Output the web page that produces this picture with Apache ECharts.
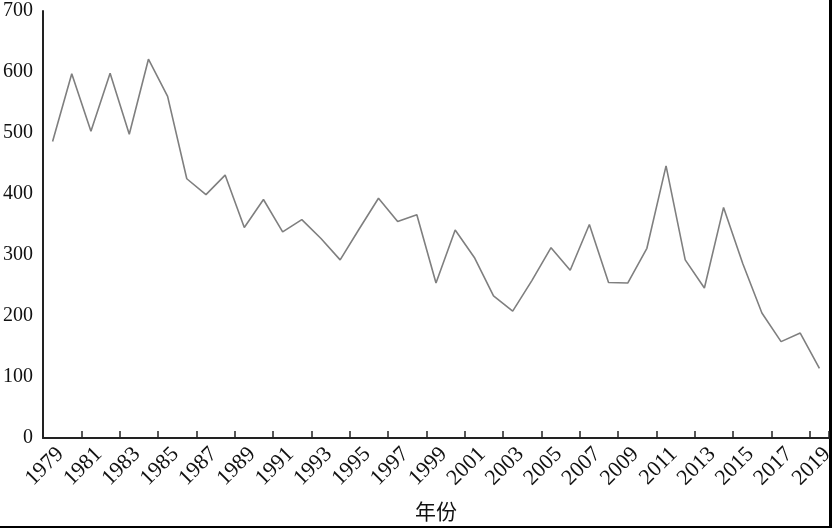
<!DOCTYPE html>
<html>
<head>
<meta charset="utf-8">
<script src="https://cdn.jsdelivr.net/npm/echarts@6/dist/echarts.min.js"></script>
<style>
html,body{margin:0;padding:0;background:#fff;}
#chart{width:832px;height:528px;}
</style>
</head>
<body>
<div id="chart"></div>
<script>
const years = [];
for (let y = 1979; y <= 2019; y++) years.push(String(y));
const values = [
  486, 597, 503, 598, 498, 621, 560, 425, 399, 431,
  345, 391, 338, 358, 327, 292, 343, 393, 355, 366,
  254, 341, 296, 233, 208, 258, 312, 275, 350, 255,
  254, 311, 446, 292, 246, 378, 286, 205, 158, 172,
  114
];
const xAxisName = '年份';
const yMin = 0, yMax = 700, yStep = 100;

const chart = echarts.init(document.getElementById('chart'));
chart.setOption({
  animation: false,
  backgroundColor: '#fff',
  grid: { left: 43, right: 3, top: 11, bottom: 90, containLabel: false, outerBoundsMode: 'none' },
  xAxis: {
    type: 'category',
    data: years,
    boundaryGap: true,
    name: xAxisName,
    nameLocation: 'middle',
    nameGap: 63,
    nameTextStyle: { fontFamily: 'Noto Sans CJK SC', fontSize: 21, color: '#111' },
    axisLine: { lineStyle: { color: '#222', width: 2 } },
    axisTick: { show: true, inside: true, length: 7, interval: 1, lineStyle: { color: '#222', width: 1.5 } },
    axisLabel: {
      interval: 1, rotate: 45, margin: 5, verticalAlign: 'top',
      fontFamily: 'Liberation Serif', fontSize: 22, color: '#111'
    },
    splitLine: { show: false }
  },
  yAxis: {
    type: 'value',
    min: yMin, max: yMax, interval: yStep,
    axisLine: { show: true, lineStyle: { color: '#222', width: 2 } },
    axisTick: { show: false },
    axisLabel: { margin: 10, fontFamily: 'Liberation Serif', fontSize: 20, color: '#111' },
    splitLine: { show: false }
  },
  series: [{
    type: 'line',
    data: values,
    symbol: 'none',
    lineStyle: { color: '#7f7f7f', width: 1.6 }
  }],
  graphic: [
    { type: 'rect', shape: { x: 829, y: 0, width: 3, height: 528 }, style: { fill: '#000' } },
    { type: 'rect', shape: { x: 0, y: 526, width: 832, height: 2 }, style: { fill: '#000' } }
  ]
});
</script>
</body>
</html>
